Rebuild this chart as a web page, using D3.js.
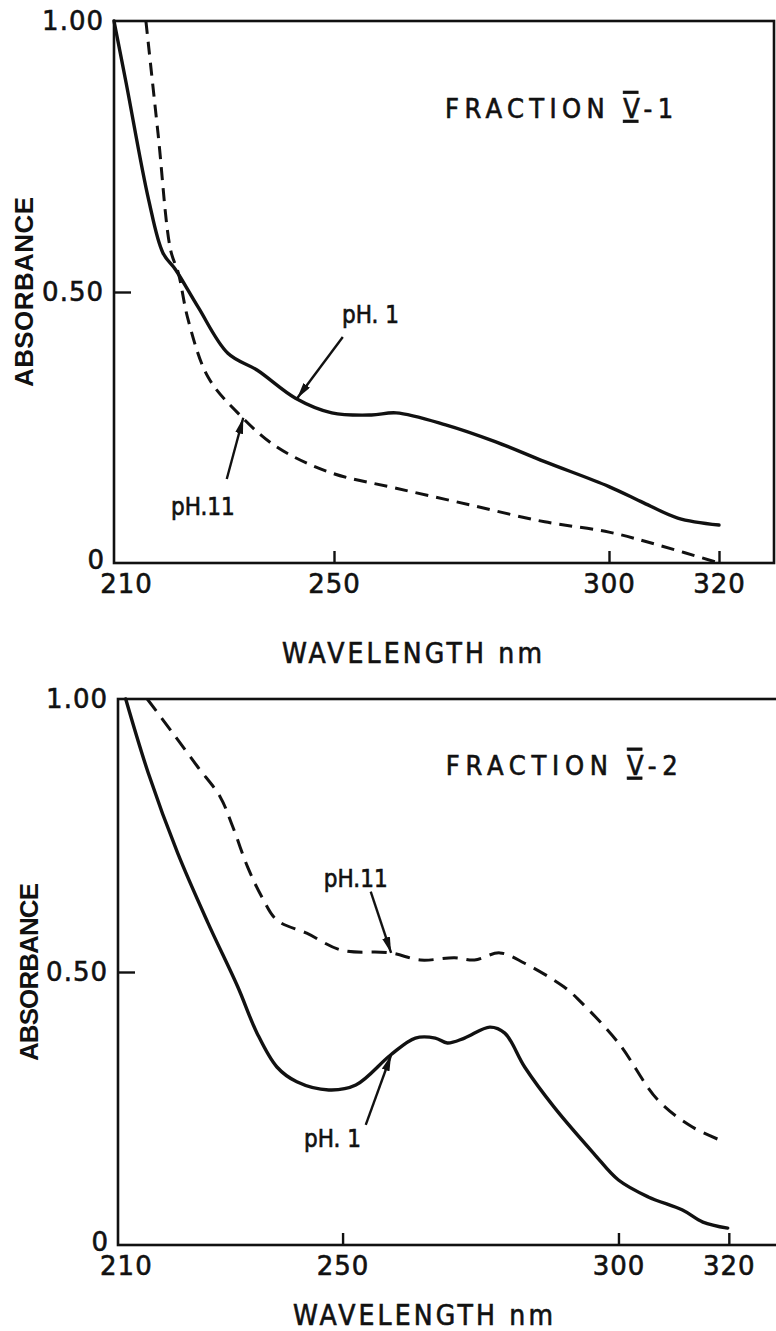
<!DOCTYPE html>
<html>
<head>
<meta charset="utf-8">
<script src="https://cdn.jsdelivr.net/npm/d3@7"></script>
<style>
  body { margin: 0; background: #fff; }
  svg text { fill: #111; }
  .inked { stroke: #111; stroke-width: 0.6px; }
</style>
</head>
<body>
<script>
// absorbance spectra of fraction V-1 and V-2 at pH 1 and pH 11

const wavelengthTicks = [210, 250, 300, 320];
const absorbanceTicks = [0, 0.5, 1.0];

// fraction V-1
const v1WavePH1 = [210, 212.2, 216.3, 218.9, 221.2, 225.3, 230.7, 236, 243, 249.6, 256.8, 261.3, 270.3, 279.3, 288.3, 300, 306.3, 312.5, 320];
const v1AbsPH1  = [1.00, 0.886, 0.670, 0.572, 0.541, 0.472, 0.387, 0.356, 0.304, 0.277, 0.273, 0.277, 0.255, 0.224, 0.187, 0.141, 0.111, 0.083, 0.070];
const v1WavePH11 = [215.8, 218, 220.3, 221.7, 223.5, 227.1, 232.5, 239.6, 249.6, 261.3, 274.8, 288.3, 300, 309, 320];
const v1AbsPH11  = [1.00, 0.793, 0.577, 0.535, 0.448, 0.343, 0.277, 0.214, 0.166, 0.138, 0.107, 0.076, 0.057, 0.033, 0.0];

// fraction V-2
const v2WavePH1 = [210.7, 214.8, 220.1, 225.6, 231, 234.5, 238.1, 241.7, 247.5, 252.4, 258.7, 263.2, 266.8, 269, 272.1, 276.7, 279.4, 283, 288.3, 295.5, 300, 305.4, 311.6, 315.3, 319.8];
const v2AbsPH1  = [1.00, 0.864, 0.718, 0.590, 0.473, 0.388, 0.326, 0.299, 0.284, 0.293, 0.348, 0.379, 0.379, 0.370, 0.379, 0.399, 0.388, 0.326, 0.253, 0.168, 0.119, 0.088, 0.064, 0.042, 0.031];
const v2WavePH11 = [214.6, 219.2, 223.8, 227.8, 230.1, 232.8, 235.4, 238.1, 243.5, 249.8, 258.7, 264.1, 270.3, 273.9, 278.5, 283, 290.1, 292.8, 300, 307.1, 313.4, 319.2];
const v2AbsPH11  = [1.00, 0.938, 0.875, 0.821, 0.766, 0.692, 0.637, 0.595, 0.571, 0.540, 0.535, 0.522, 0.526, 0.522, 0.535, 0.516, 0.473, 0.449, 0.370, 0.266, 0.216, 0.189];

function zip(xs, ys) {
  return xs.map((x, i) => ({ x: x, y: ys[i] }));
}

const panels = [
  {
    suffix: "-1", titleAt: [270.2, 0.821], titleLen: 228,
    xDomain: [210, 330], xRange: [114, 774], yRange: [563, 21],
    label210Shift: 12, yLabelX: 33, yLabelLen: 190, xLabelX: 412, xLabelY: 663,
    solid: zip(v1WavePH1, v1AbsPH1), dashed: zip(v1WavePH11, v1AbsPH11),
    notes: [
      { text: "pH. 1", at: [251.45, 0.443], tail: [251.6, 0.417], head: [243.3, 0.304] },
      { text: "pH.11", at: [220.36, 0.089], tail: [230.5, 0.155], head: [233.5, 0.268] }
    ],
    dash: "13,8"
  },
  {
    suffix: "-2", titleAt: [268.7, 0.861], titleLen: 232,
    xDomain: [209.3, 330], xRange: [118, 784], yRange: [1245, 699],
    label210Shift: 4, yLabelX: 38, yLabelLen: 178, xLabelX: 423, xLabelY: 1325,
    solid: zip(v2WavePH1, v2AbsPH1), dashed: zip(v2WavePH11, v2AbsPH11),
    notes: [
      { text: "pH.11", at: [246.6, 0.656], tail: [255.1, 0.647], head: [258.8, 0.535] },
      { text: "pH. 1", at: [243.0, 0.179], tail: [254.2, 0.220], head: [258.8, 0.348] }
    ],
    dash: "15,9"
  }
];

function drawPanel(svg, p) {
  var x = d3.scaleLinear().domain(p.xDomain).range(p.xRange);
  var y = d3.scaleLinear().domain([0, 1]).range(p.yRange);
  var g = svg.append("g");

  // frame round the plot
  g.append("rect")
    .attr("x", p.xRange[0]).attr("y", p.yRange[1])
    .attr("width", p.xRange[1] - p.xRange[0])
    .attr("height", p.yRange[0] - p.yRange[1])
    .attr("fill", "none").attr("stroke", "#111").attr("stroke-width", 2.6);

  // bottom axis with the ticks pointing inward
  var xAxis = d3.axisBottom(x)
    .tickValues(wavelengthTicks)
    .tickSizeInner(-12).tickSizeOuter(0).tickPadding(12)
    .tickFormat(d3.format("d"));
  var gx = g.append("g")
    .attr("transform", "translate(0," + p.yRange[0] + ")")
    .call(xAxis);
  gx.select(".domain").remove();
  gx.selectAll("line").attr("stroke", "#111").attr("stroke-width", 2.4)
    .filter(d => d == 210).remove();
  gx.selectAll("text")
    .attr("class", "inked")
    .style("font-family", "'DejaVu Sans', sans-serif")
    .style("font-size", "26px")
    .style("letter-spacing", "1px")
    .attr("dx", d => d == 210 ? p.label210Shift : 0);

  // left axis
  var yAxis = d3.axisLeft(y)
    .tickValues(absorbanceTicks)
    .tickSizeInner(-17).tickSizeOuter(0).tickPadding(10)
    .tickFormat(d => d == 0 ? "0" : d3.format(".2f")(d));
  var gy = g.append("g")
    .attr("transform", "translate(" + p.xRange[0] + ",0)")
    .call(yAxis);
  gy.select(".domain").remove();
  gy.selectAll("line").attr("stroke", "#111").attr("stroke-width", 2.4)
    .filter(d => d != 0.5).remove();
  gy.selectAll("text")
    .attr("class", "inked")
    .style("font-family", "'DejaVu Sans', sans-serif")
    .style("font-size", "26px")
    .style("letter-spacing", d => d == 0 ? "0px" : "1px")
    .attr("dy", d => d == 0 ? "0.2em" : "0.32em");

  var line = d3.line()
    .x(d => x(d.x)).y(d => y(d.y))
    .curve(d3.curveCatmullRom.alpha(0.5));

  g.append("path").datum(p.solid)
    .attr("d", line).attr("fill", "none")
    .attr("stroke", "#111").attr("stroke-width", 3.4)
    .attr("stroke-linejoin", "round").attr("stroke-linecap", "round");

  g.append("path").datum(p.dashed)
    .attr("d", line).attr("fill", "none")
    .attr("stroke", "#111").attr("stroke-width", 3)
    .attr("stroke-dasharray", p.dash);

  // pH labels and their arrows
  p.notes.forEach(n => {
    g.append("text")
      .attr("class", "inked")
      .attr("x", x(n.at[0])).attr("y", y(n.at[1]))
      .style("font-family", "'DejaVu Sans Condensed', sans-serif")
      .style("font-size", "24px")
      .text(n.text);
    g.append("line")
      .attr("x1", x(n.tail[0])).attr("y1", y(n.tail[1]))
      .attr("x2", x(n.head[0])).attr("y2", y(n.head[1]))
      .attr("stroke", "#111").attr("stroke-width", 2.4)
      .attr("marker-end", "url(#head)");
  });

  // fraction title, roman numeral with bars above and below
  var t = g.append("text")
    .attr("class", "inked")
    .attr("x", x(p.titleAt[0])).attr("y", y(p.titleAt[1]))
    .attr("textLength", p.titleLen)
    .style("font-family", "'DejaVu Sans Condensed', sans-serif")
    .style("font-size", "27px");
  t.append("tspan").text("FRACTION  ");
  t.append("tspan").style("text-decoration", "underline overline").text("V");
  t.append("tspan").text(p.suffix);

  // axis titles
  g.append("text")
    .attr("transform", "translate(" + p.yLabelX + "," + (p.yRange[0] + p.yRange[1]) / 2 + ") rotate(-90)")
    .attr("text-anchor", "middle")
    .attr("textLength", p.yLabelLen)
    .style("font-family", "'Liberation Sans', Arial, sans-serif")
    .style("font-weight", "bold")
    .style("font-size", "26px")
    .text("ABSORBANCE");

  g.append("text")
    .attr("class", "inked")
    .attr("x", p.xLabelX).attr("y", p.xLabelY)
    .attr("text-anchor", "middle")
    .attr("textLength", 260)
    .style("font-family", "'DejaVu Sans Condensed', sans-serif")
    .style("font-size", "28px")
    .text("WAVELENGTH nm");
}

function main() {
  var svg = d3.select("body").append("svg")
    .attr("width", 776).attr("height", 1331)
    .style("background", "#fff");

  svg.append("defs").append("marker")
    .attr("id", "head")
    .attr("viewBox", "0 0 16 8")
    .attr("refX", 16).attr("refY", 4)
    .attr("markerWidth", 16).attr("markerHeight", 8)
    .attr("markerUnits", "userSpaceOnUse")
    .attr("orient", "auto")
    .append("path").attr("d", "M0,0 L16,4 L0,8 Z").attr("fill", "#111");

  panels.forEach(p => drawPanel(svg, p));
}

main();
</script>
</body>
</html>
